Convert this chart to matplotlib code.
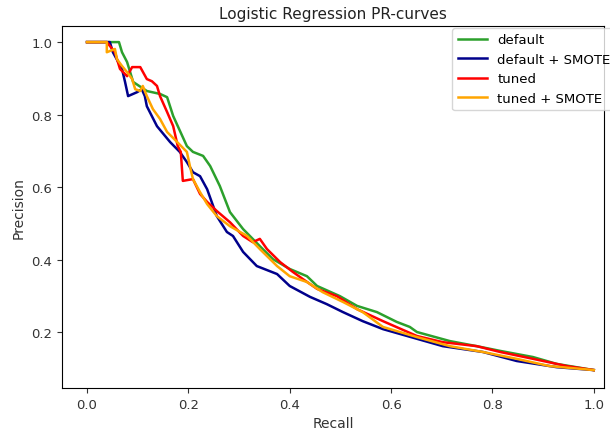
import matplotlib
matplotlib.use("Agg")
import matplotlib.pyplot as plt

# recall / precision
rec_default = [0, 0.063, 0.069, 0.079, 0.091, 0.118, 0.144, 0.158, 0.170, 0.197, 0.209, 0.229,
               0.243, 0.262, 0.282, 0.308, 0.341, 0.367, 0.400, 0.434, 0.454, 0.499, 0.533,
               0.572, 0.611, 0.637, 0.651, 0.716, 0.769, 0.815, 0.880, 0.927, 1.0]
prec_default = [1.0, 1.0, 0.972, 0.945, 0.890, 0.865, 0.857, 0.848, 0.796, 0.713, 0.697, 0.686,
                0.658, 0.603, 0.531, 0.484, 0.437, 0.401, 0.374, 0.354, 0.327, 0.299, 0.272,
                0.255, 0.228, 0.214, 0.200, 0.175, 0.161, 0.148, 0.131, 0.112, 0.095]

rec_default_smote = [0, 0.045, 0.051, 0.069, 0.075, 0.081, 0.099, 0.108, 0.114, 0.118, 0.138,
                     0.164, 0.183, 0.197, 0.209, 0.223, 0.237, 0.256, 0.276, 0.288, 0.308,
                     0.335, 0.375, 0.400, 0.440, 0.473, 0.505, 0.544, 0.584, 0.702, 0.781,
                     0.848, 0.927, 1.0]
prec_default_smote = [1.0, 1.0, 0.972, 0.926, 0.890, 0.851, 0.862, 0.870, 0.851, 0.823, 0.768,
                      0.724, 0.697, 0.669, 0.641, 0.630, 0.594, 0.520, 0.476, 0.465, 0.421,
                      0.382, 0.360, 0.327, 0.297, 0.277, 0.255, 0.230, 0.208, 0.161, 0.145,
                      0.120, 0.103, 0.095]

rec_tuned = [0, 0.039, 0.055, 0.065, 0.079, 0.089, 0.105, 0.118, 0.128, 0.138, 0.144, 0.158,
             0.170, 0.179, 0.185, 0.189, 0.209, 0.223, 0.237, 0.256, 0.282, 0.308, 0.327,
             0.341, 0.355, 0.381, 0.406, 0.426, 0.454, 0.493, 0.533, 0.584, 0.651, 0.702,
             0.769, 0.815, 0.880, 0.947, 1.0]
prec_tuned = [1.0, 1.0, 0.972, 0.926, 0.906, 0.931, 0.931, 0.898, 0.892, 0.879, 0.851, 0.807,
              0.768, 0.713, 0.697, 0.617, 0.622, 0.581, 0.559, 0.534, 0.503, 0.465, 0.448,
              0.457, 0.429, 0.393, 0.366, 0.346, 0.319, 0.299, 0.263, 0.230, 0.189, 0.172,
              0.161, 0.145, 0.126, 0.106, 0.095]

rec_tuned_smote = [0, 0.039, 0.039, 0.055, 0.059, 0.069, 0.079, 0.089, 0.095, 0.105, 0.110,
                   0.118, 0.130, 0.144, 0.158, 0.178, 0.197, 0.203, 0.209, 0.223, 0.237,
                   0.256, 0.282, 0.316, 0.341, 0.375, 0.400, 0.434, 0.465, 0.505, 0.544,
                   0.584, 0.651, 0.716, 0.781, 0.848, 0.913, 1.0]
prec_tuned_smote = [1.0, 1.0, 0.972, 0.981, 0.953, 0.934, 0.917, 0.898, 0.870, 0.865, 0.879,
                    0.851, 0.815, 0.788, 0.752, 0.724, 0.697, 0.658, 0.622, 0.586, 0.553,
                    0.520, 0.492, 0.465, 0.429, 0.382, 0.354, 0.338, 0.310, 0.283, 0.255,
                    0.214, 0.186, 0.161, 0.145, 0.126, 0.106, 0.095]

fig = plt.figure(figsize=(6.1, 4.31), dpi=100)
ax = fig.add_axes([0.102, 0.097, 0.888, 0.840])

ax.plot(rec_default, prec_default, color='#2ca02c', lw=1.8, label='default')
ax.plot(rec_default_smote, prec_default_smote, color='darkblue', lw=1.8, label='default + SMOTE')
ax.plot(rec_tuned, prec_tuned, color='red', lw=1.8, label='tuned')
ax.plot(rec_tuned_smote, prec_tuned_smote, color='orange', lw=1.8, label='tuned + SMOTE')

ax.set_xlim(-0.049, 1.02)
ax.set_ylim(0.045, 1.044)
ax.set_xticks([0.0, 0.2, 0.4, 0.6, 0.8, 1.0])
ax.set_yticks([0.2, 0.4, 0.6, 0.8, 1.0])
ax.tick_params(labelsize=9.5, colors='#333333')
ax.set_xlabel('Recall', fontsize=10, color='#333333')
ax.set_ylabel('Precision', fontsize=10, color='#333333')
ax.set_title('Logistic Regression PR-curves', fontsize=11, color='#222222')
ax.legend(loc='upper right', fontsize=9.5, handlelength=2.2, borderaxespad=0,
          bbox_to_anchor=(1.022, 0.995))

fig.savefig('out.png', dpi=100)
